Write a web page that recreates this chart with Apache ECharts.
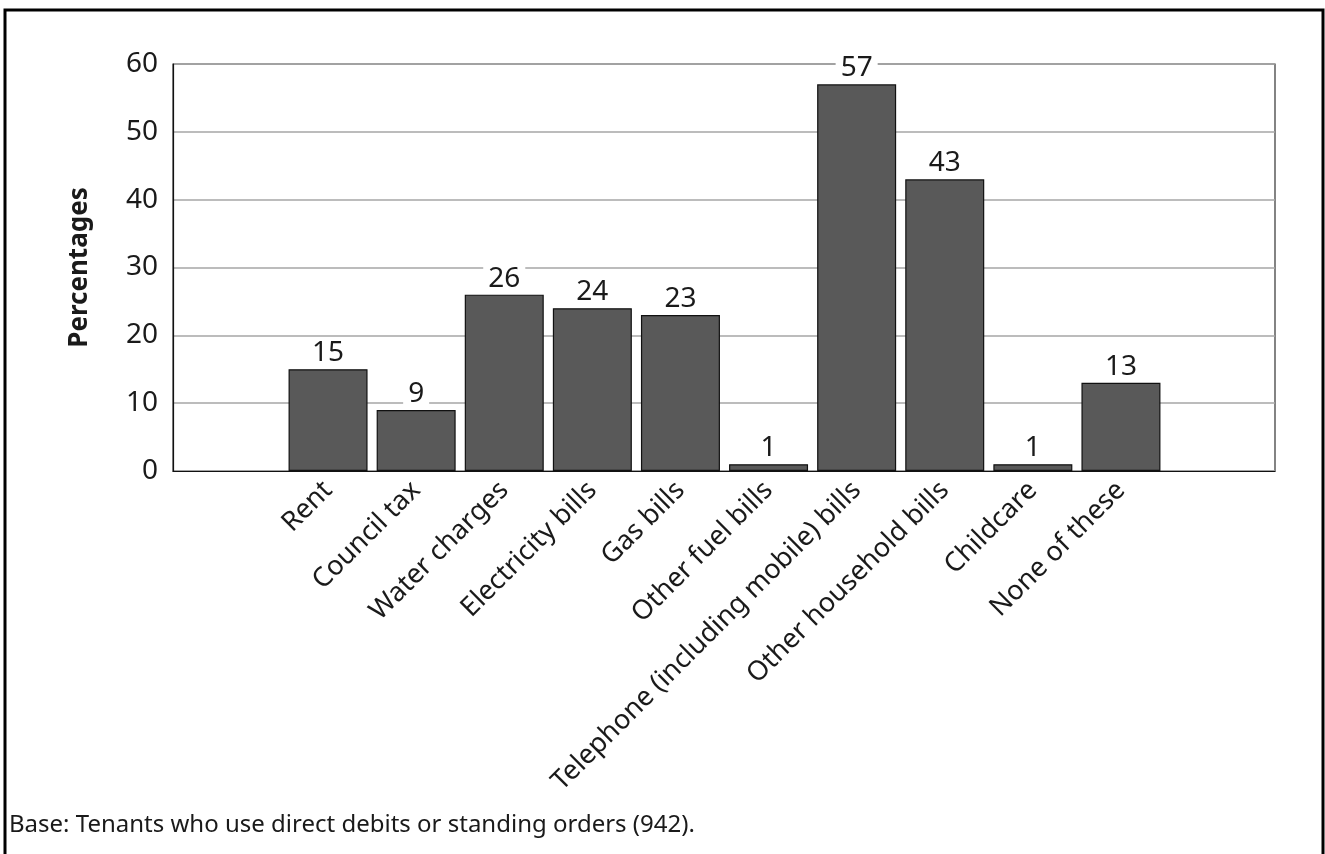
<!DOCTYPE html>
<html>
<head>
<meta charset="utf-8">
<script src="https://cdn.jsdelivr.net/npm/echarts@6/dist/echarts.min.js"></script>
<style>
  html, body { margin: 0; padding: 0; background: #fff; }
  #chart { width: 1325px; height: 854px; }
</style>
</head>
<body>
<div id="chart"></div>
<script>
// Payment types paid by direct debit or standing order
const categories = [
  'Rent', 'Council tax', 'Water charges', 'Electricity bills', 'Gas bills',
  'Other fuel bills', 'Telephone (including mobile) bills', 'Other household bills',
  'Childcare', 'None of these'
];
const percentages = [15, 9, 26, 24, 23, 1, 57, 43, 1, 13];
const yTicks = { min: 0, max: 60, interval: 10 };
const yAxisTitle = 'Percentages';
const footnote = 'Base: Tenants who use direct debits or standing orders (942).';

const FONT = '"Noto Sans", "Open Sans", sans-serif';
const TEXT = '#1a1a1a';
const chart = echarts.init(document.getElementById('chart'), null, { renderer: 'canvas' });

chart.setOption({
  backgroundColor: '#ffffff',
  animation: false,
  graphic: [
    {
      type: 'rect',
      shape: { x: 5, y: 10, width: 1318, height: 860 },
      style: { fill: 'none', stroke: '#000', lineWidth: 3 },
      z: -10
    },
    {
      type: 'text',
      left: 9,
      top: 813,
      style: { text: footnote, font: '24px ' + FONT, fill: TEXT }
    }
  ],
  grid: [
    // framed plot area with value scale and gridlines
    { left: 173, right: 50, top: 64, bottom: 383, show: true, borderColor: '#333', borderWidth: 1.2, backgroundColor: 'transparent' },
    // bar area, inset inside the frame
    { left: 284, right: 160, top: 64, bottom: 383 }
  ],
  xAxis: [
    {
      gridIndex: 0, type: 'value', min: 0, max: 1,
      axisLine: { show: true, onZero: false, lineStyle: { color: '#111', width: 1.2 } },
      axisTick: { show: false }, axisLabel: { show: false }, splitLine: { show: false }
    },
    {
      gridIndex: 1, type: 'category', data: categories,
      axisLine: { show: false }, axisTick: { show: false },
      axisLabel: {
        rotate: 45, interval: 0, margin: 15,
        fontFamily: FONT, fontSize: 27, color: TEXT
      }
    }
  ],
  yAxis: [
    {
      gridIndex: 0, type: 'value',
      min: yTicks.min, max: yTicks.max, interval: yTicks.interval,
      name: yAxisTitle, nameLocation: 'middle', nameGap: 80,
      nameTextStyle: { fontFamily: FONT, fontSize: 26, fontWeight: 'bold', color: TEXT },
      axisLine: { show: true, lineStyle: { color: '#111', width: 1.2 } },
      axisTick: { show: false },
      axisLabel: { fontFamily: FONT, fontSize: 28, color: TEXT, margin: 15, padding: [8, 0, 0, 0] },
      splitLine: { show: true, lineStyle: { color: '#a6a6a6', width: 1.5 } }
    },
    {
      gridIndex: 1, type: 'value',
      min: yTicks.min, max: yTicks.max, interval: yTicks.interval,
      show: false, splitLine: { show: false }
    }
  ],
  series: [
    {
      type: 'bar',
      xAxisIndex: 1, yAxisIndex: 1,
      data: percentages,
      barWidth: 79,
      itemStyle: { color: '#595959', borderColor: '#111', borderWidth: 1.2 },
      label: {
        show: true, position: 'top', distance: 2,
        fontFamily: FONT, fontSize: 28, color: TEXT,
        backgroundColor: '#ffffff', padding: [0, 5, 0, 5], lineHeight: 28
      }
    }
  ]
});
</script>
</body>
</html>
